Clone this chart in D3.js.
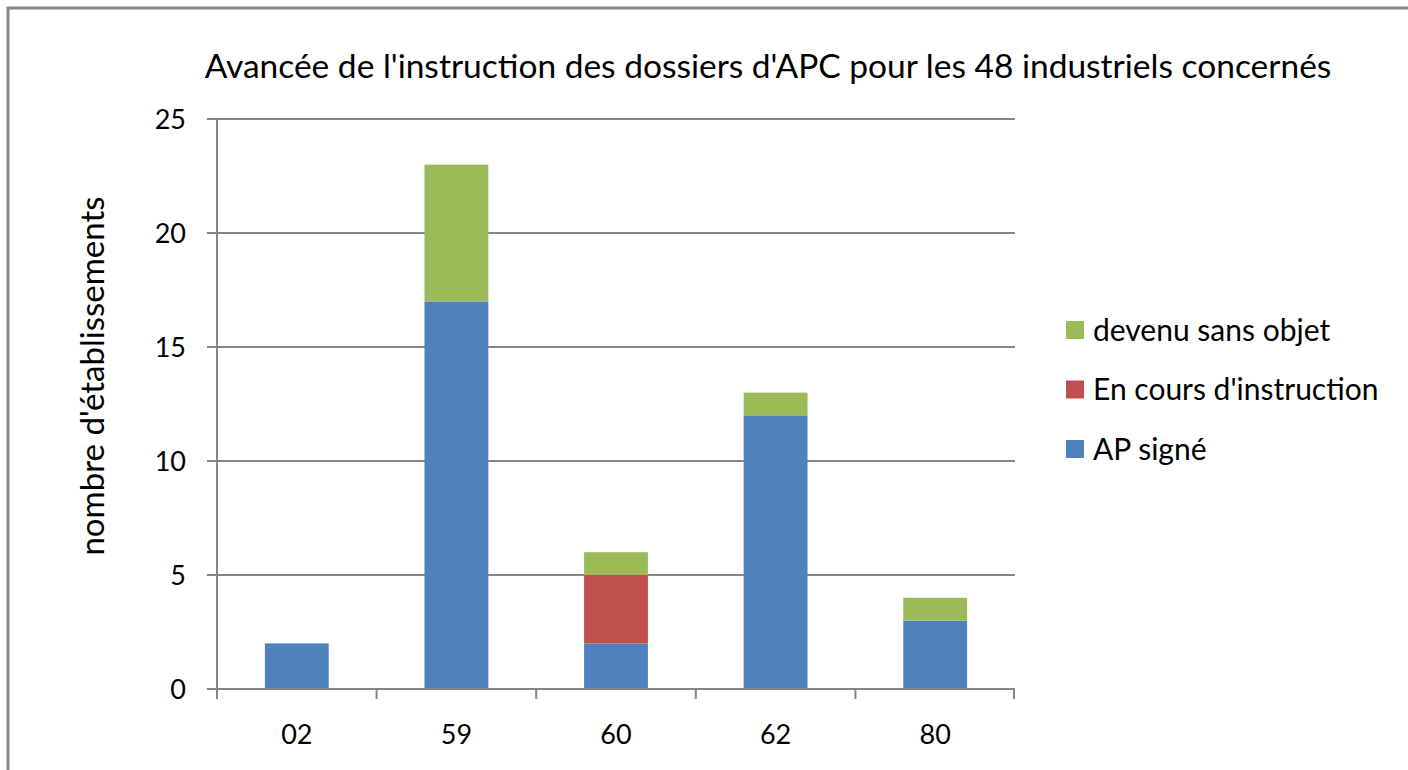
<!DOCTYPE html>
<html><head><meta charset="utf-8">
<script src="https://cdn.jsdelivr.net/npm/d3@7"></script>
<style>html,body{margin:0;background:#fff;overflow:hidden;}svg{display:block;}text{font-family:Lato,"Open Sans",sans-serif;fill:#000;}</style>
</head><body>
<svg id="c" width="1408" height="770"></svg>
<script>
const categories = ["02","59","60","62","80"];
const apSigne = [2,17,2,12,3];
const enCours = [0,0,3,0,0];
const sansObjet = [0,6,1,1,1];
const seriesNames = ["AP signé","En cours d'instruction","devenu sans objet"];
const seriesColors = ["#4F81BD","#C0504D","#9BBB59"];
const yTicks = [0,5,10,15,20,25];
const title = "Avancée de l'instruction des dossiers d'APC pour les 48 industriels concernés";
const yLabel = "nombre d'établissements";

const svg = d3.select("#c");
svg.append("path").attr("d","M8,770 L8,8 L1408,8").attr("fill","none")
  .attr("stroke","#868686").attr("stroke-width",3);

const m = {l:217, r:1015, t:119, b:689};
const x = d3.scaleBand().domain(categories).range([m.l,m.r]).paddingInner(0.6).paddingOuter(0.3);
const xb = d3.scaleBand().domain(categories).range([m.l,m.r]);
const y = d3.scaleLinear().domain([0,25]).range([m.b,m.t]);

svg.append("g").selectAll("line").data(yTicks).join("line")
  .attr("x1",m.l-10).attr("x2",m.r).attr("y1",d=>y(d)).attr("y2",d=>y(d))
  .attr("stroke","#868686").attr("stroke-width",2);

const data = categories.map((c,i)=>({cat:c, "AP signé":apSigne[i], "En cours d'instruction":enCours[i], "devenu sans objet":sansObjet[i]}));
const stack = d3.stack().keys(seriesNames)(data);
svg.append("g").selectAll("g").data(stack).join("g").attr("fill",(d,i)=>seriesColors[i])
  .selectAll("rect").data(d=>d.filter(p=>p[1]-p[0]>0)).join("rect")
  .attr("x",d=>x(d.data.cat)).attr("width",x.bandwidth())
  .attr("y",d=>y(d[1])).attr("height",d=>y(d[0])-y(d[1]));

svg.append("line").attr("x1",m.l).attr("x2",m.l).attr("y1",m.t).attr("y2",m.b+1)
  .attr("stroke","#868686").attr("stroke-width",2);
svg.append("line").attr("x1",m.l-10).attr("x2",m.r).attr("y1",m.b).attr("y2",m.b)
  .attr("stroke","#868686").attr("stroke-width",2);
const bounds = categories.map(c=>xb(c)).concat([m.r-1]);
svg.append("g").selectAll("line").data(bounds).join("line")
  .attr("x1",d=>d).attr("x2",d=>d).attr("y1",m.b).attr("y2",m.b+10)
  .attr("stroke","#868686").attr("stroke-width",2);

svg.append("g").selectAll("text").data(yTicks).join("text")
  .attr("x",186).attr("y",d=>y(d)).attr("dy","0.36em").attr("text-anchor","end")
  .attr("font-size",27).text(d=>d);
svg.append("g").selectAll("text").data(categories).join("text")
  .attr("x",d=>xb(d)+xb.bandwidth()/2).attr("y",744).attr("text-anchor","middle")
  .attr("font-size",27).text(d=>d);

svg.append("text").attr("x",768).attr("y",78).attr("text-anchor","middle")
  .attr("font-size",33.5).text(title);
svg.append("text").attr("transform","translate(104,376) rotate(-90)").attr("text-anchor","middle")
  .attr("font-size",33).text(yLabel);

const legOrder = [2,1,0];
const lg = svg.append("g").selectAll("g").data(legOrder).join("g")
  .attr("transform",(d,i)=>`translate(1066,${330+i*59.5})`);
lg.append("rect").attr("x",0).attr("y",-9).attr("width",18).attr("height",18).attr("fill",d=>seriesColors[d]);
lg.append("text").attr("x",27).attr("y",0).attr("dy","0.36em").attr("font-size",30).text(d=>seriesNames[d]);
</script>
</body></html>
